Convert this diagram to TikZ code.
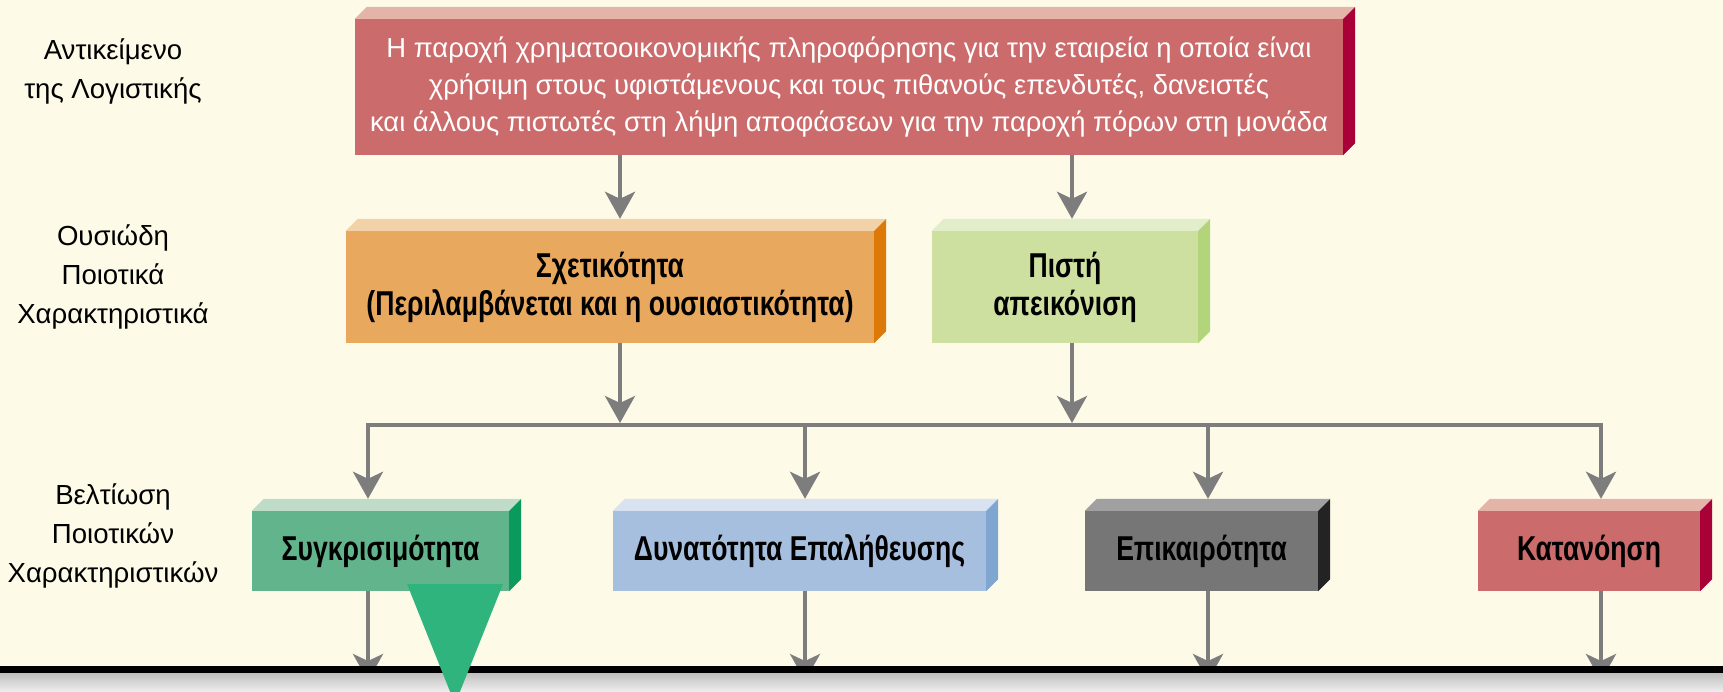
\documentclass[tikz,border=0pt]{standalone}
\usepackage{fontspec}
\setmainfont{Liberation Sans}
\newfontfamily\boldcond{Liberation Sans}[FakeStretch=0.77]
\usetikzlibrary{arrows.meta,calc}
\definecolor{bg}{HTML}{FEFAE8}
\definecolor{redF}{HTML}{CC6B6B}\definecolor{redT}{HTML}{E5B4A9}\definecolor{redS}{HTML}{AA0038}
\definecolor{orF}{HTML}{E8A95F}\definecolor{orT}{HTML}{F2D3A9}\definecolor{orS}{HTML}{DC7908}
\definecolor{lgF}{HTML}{CDE09F}\definecolor{lgT}{HTML}{E2EDC9}\definecolor{lgS}{HTML}{B2D47A}
\definecolor{gF}{HTML}{62B48C}\definecolor{gT}{HTML}{BEDCC8}\definecolor{gS}{HTML}{0B9A5D}
\definecolor{bF}{HTML}{A7BFDE}\definecolor{bT}{HTML}{D8E2F0}\definecolor{bS}{HTML}{7FA6D0}
\definecolor{kF}{HTML}{767676}\definecolor{kT}{HTML}{A0A0A0}\definecolor{kS}{HTML}{232323}
\definecolor{arrowgray}{HTML}{7D7D7D}
\definecolor{tri}{HTML}{2FB47E}
\newcommand\solidbox[3]{%
  \fill[#2] (#1.north west) -- ([shift={(12pt,12pt)}]#1.north west) -- ([shift={(12pt,12pt)}]#1.north east) -- (#1.north east) -- cycle;
  \fill[#3] (#1.north east) -- ([shift={(12pt,12pt)}]#1.north east) -- ([shift={(12pt,12pt)}]#1.south east) -- (#1.south east) -- cycle;}
\tikzset{
  face/.style={inner sep=0pt, align=center},
  boldtext/.style={font=\boldcond\bfseries\fontsize{34.5}{38}\selectfont},
  regtext/.style={font=\fontsize{27.4}{37}\selectfont},
  lab/.style={align=center, inner sep=0pt, font=\fontsize{27.6}{39}\selectfont},
  arr/.style={draw=arrowgray, line width=4pt, -{Stealth[length=27pt,width=30pt,inset=7pt]}},
  hline/.style={draw=arrowgray, line width=4pt, line cap=rect},
}
\begin{document}
\begin{tikzpicture}[x=1pt,y=-1pt]
\useasboundingbox (0,0) rectangle (1723,692);
\fill[bg] (0,0) rectangle (1723,692);

% labels
\node[lab] (l1) at (113,71) {Αντικείμενο\\της Λογιστικής};
\node[lab] (l2) at (113,277) {Ουσιώδη\\Ποιοτικά\\Χαρακτηριστικά};
\node[lab] (l3) at (113,536) {Βελτίωση\\Ποιοτικών\\Χαρακτηριστικών};

% boxes
\node[face, fill=redF, minimum width=988pt, minimum height=136pt, regtext, text=white] (top) at (849,87)
  {Η παροχή χρηματοοικονομικής πληροφόρησης για την εταιρεία η οποία είναι\\
   χρήσιμη στους υφιστάμενους και τους πιθανούς επενδυτές, δανειστές\\
   και άλλους πιστωτές στη λήψη αποφάσεων για την παροχή πόρων στη μονάδα};
\solidbox{top}{redT}{redS}

\node[face, fill=orF, minimum width=528pt, minimum height=112pt, boldtext] (rel) at (610,287)
  {Σχετικότητα\\(Περιλαμβάνεται και η ουσιαστικότητα)};
\solidbox{rel}{orT}{orS}

\node[face, fill=lgF, minimum width=266pt, minimum height=112pt, boldtext] (faith) at (1065,287)
  {Πιστή\\απεικόνιση};
\solidbox{faith}{lgT}{lgS}

\node[face, fill=gF, minimum width=257pt, minimum height=80pt, boldtext] (comp) at (380.5,551) {Συγκρισιμότητα};
\solidbox{comp}{gT}{gS}
\node[face, fill=bF, minimum width=373pt, minimum height=80pt, boldtext] (verif) at (799.5,551) {Δυνατότητα Επαλήθευσης};
\solidbox{verif}{bT}{bS}
\node[face, fill=kF, minimum width=233pt, minimum height=80pt, boldtext] (time) at (1201.5,551) {Επικαιρότητα};
\solidbox{time}{kT}{kS}
\node[face, fill=redF, minimum width=222pt, minimum height=80pt, boldtext] (und) at (1589,551) {Κατανόηση};
\solidbox{und}{redT}{redS}

% coordinates
\coordinate (cA) at (620,0);
\coordinate (cB) at (1072,0);
\coordinate (hl) at (0,423);
\coordinate (j1) at (368,425);
\coordinate (j2) at (805,425);
\coordinate (j3) at (1208,425);
\coordinate (j4) at (1601,425);
\coordinate (base) at (0,681);

% connectors
\draw[arr] (top.south -| cA) -- ([yshift=12pt]rel.north -| cA);
\draw[arr] (top.south -| cB) -- ([yshift=12pt]faith.north -| cB);
\draw[arr] (rel.south -| cA) -- (hl -| cA);
\draw[arr] (faith.south -| cB) -- (hl -| cB);
\draw[hline] (j1) -- (j4);
\draw[arr] (j1) -- ([yshift=12pt]comp.north -| j1);
\draw[arr] (j2) -- ([yshift=12pt]verif.north -| j2);
\draw[arr] (j3) -- ([yshift=12pt]time.north -| j3);
\draw[arr] (j4) -- ([yshift=12pt]und.north -| j4);
\draw[arr] (comp.south -| j1) -- (base -| j1);
\draw[arr] (verif.south -| j2) -- (base -| j2);
\draw[arr] (time.south -| j3) -- (base -| j3);
\draw[arr] (und.south -| j4) -- (base -| j4);

% bottom band
\shade[top color=black!25, bottom color=black!6] (0,673) rectangle (1723,692);
\fill[black] (0,666) rectangle (1723,673);

% green pointer
\fill[tri] (407,584) -- (503,584) -- (455,704) -- cycle;
\end{tikzpicture}
\end{document}
